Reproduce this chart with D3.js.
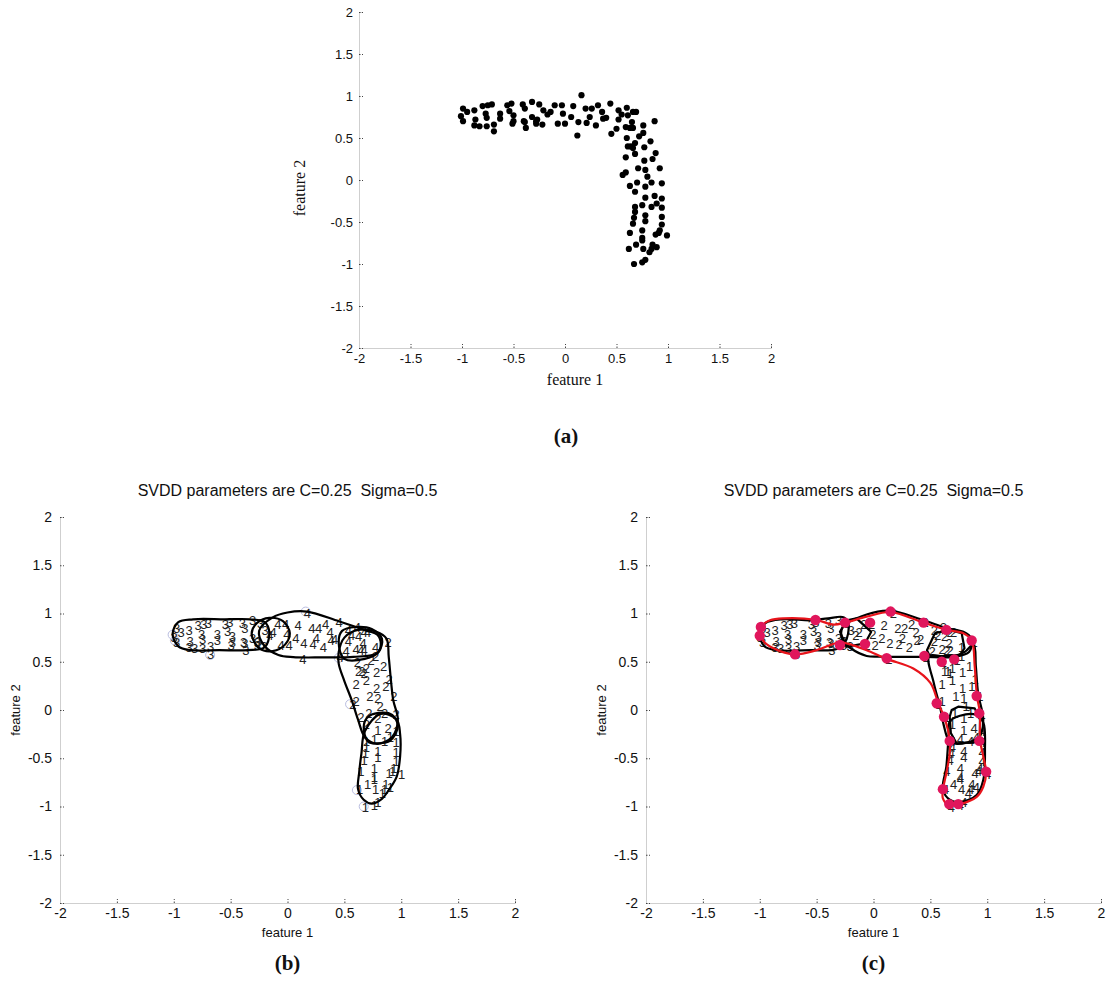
<!DOCTYPE html>
<html>
<head>
<meta charset="utf-8">
<script src="https://cdn.jsdelivr.net/npm/d3@7"></script>
<style>
  body { margin: 0; background: #fff; }
  svg { display: block; }
</style>
</head>
<body>
<script>
// raw data: feature1 / feature2 of every sample
const feature1 = [-1.01,-0.99,-0.99,-0.95,-0.88,-0.87,-0.88,-0.83,-0.80,-0.77,-0.76,-0.76,-0.75,-0.71,-0.69,-0.69,-0.63,-0.63,-0.56,-0.54,
  -0.52,-0.50,-0.50,-0.51,-0.41,-0.39,-0.40,-0.39,-0.38,-0.32,-0.32,-0.28,-0.27,-0.25,-0.28,-0.22,-0.21,-0.17,-0.14,-0.10,
  -0.07,-0.03,-0.02,0.00,0.06,0.08,0.12,0.13,0.16,0.20,0.21,0.24,0.26,0.30,0.32,0.36,0.37,0.40,0.44,0.45,
  0.50,0.52,0.52,0.55,0.60,0.61,0.59,0.63,0.65,0.66,0.69,0.66,0.60,0.61,0.64,0.66,0.68,0.72,0.76,0.76,
  0.77,0.83,0.87,0.88,0.85,0.77,0.68,0.59,0.71,0.78,0.92,0.59,0.56,0.80,0.63,0.70,0.84,0.78,0.94,0.68,
  0.78,0.87,0.89,0.94,0.84,0.75,0.68,0.94,0.68,0.67,0.78,0.78,0.94,0.66,0.94,0.63,0.75,0.75,0.75,0.92,
  0.88,0.91,0.99,0.69,0.62,0.76,0.85,0.89,0.82,0.84,0.78,0.75,0.67];
const feature2 = [0.76,0.85,0.70,0.81,0.83,0.72,0.65,0.64,0.88,0.79,0.74,0.64,0.89,0.90,0.66,0.58,0.79,0.73,0.89,0.82,
  0.91,0.77,0.70,0.67,0.90,0.85,0.70,0.69,0.62,0.93,0.75,0.70,0.72,0.90,0.67,0.66,0.83,0.78,0.81,0.89,
  0.67,0.89,0.79,0.67,0.75,0.88,0.53,0.69,1.01,0.85,0.68,0.75,0.85,0.65,0.89,0.81,0.73,0.74,0.91,0.55,
  0.61,0.72,0.83,0.78,0.86,0.77,0.63,0.62,0.69,0.81,0.81,0.62,0.50,0.40,0.40,0.38,0.44,0.52,0.65,0.56,
  0.39,0.46,0.70,0.32,0.25,0.23,0.31,0.27,0.14,0.12,0.14,0.09,0.06,0.04,-0.07,-0.03,-0.03,-0.08,-0.04,-0.14,
  -0.21,-0.19,-0.28,-0.22,-0.32,-0.30,-0.32,-0.33,-0.38,-0.45,-0.42,-0.49,-0.44,-0.52,-0.53,-0.63,-0.60,-0.69,-0.72,-0.60,
  -0.65,-0.63,-0.66,-0.77,-0.82,-0.82,-0.77,-0.80,-0.86,-0.82,-0.95,-0.98,-1.00];

// cluster labels printed at each sample in panels b and c
const labelsB = [3,3,3,3,3,3,3,3,3,3,3,3,3,3,3,3,3,3,3,3,
  3,3,3,3,3,3,3,3,3,3,3,3,3,3,3,3,3,4,4,4,
  4,4,4,4,4,4,4,4,4,4,4,4,4,4,4,4,4,4,4,4,
  4,4,4,4,4,4,4,4,4,4,4,4,2,2,2,2,2,2,4,2,
  2,2,2,2,2,2,2,2,2,2,2,2,2,2,2,2,2,2,2,2,
  1,2,1,1,1,1,1,1,1,1,1,1,1,1,1,1,1,1,1,1,
  1,1,1,1,1,1,1,1,1,1,1,1,1];
const labelsC = [3,3,3,3,3,3,3,3,3,3,3,3,3,3,3,3,3,3,3,3,
  3,3,3,3,3,3,3,3,3,3,3,3,3,3,3,3,3,2,2,2,
  2,2,2,2,2,2,2,2,2,2,2,2,2,2,2,2,2,2,2,2,
  2,2,2,2,2,2,2,2,2,2,2,2,1,1,1,1,1,1,1,1,
  1,1,1,1,1,1,1,1,1,1,1,1,1,1,1,1,1,1,1,1,
  1,4,4,4,4,4,4,4,4,4,4,4,4,4,4,4,4,4,4,4,
  4,4,4,4,4,4,4,4,4,4,4,4,4];

const ticks = [-2, -1.5, -1, -0.5, 0, 0.5, 1, 1.5, 2];
const panelTitle = "SVDD parameters are C=0.25  Sigma=0.5";

// cluster boundaries, panel b
const boundB3 = [[-1.01,0.79],[-0.96,0.91],[-0.83,0.94],[-0.55,0.94],[-0.33,0.94],[-0.2,0.91],[-0.16,0.8],[-0.2,0.65],[-0.35,0.62],[-0.6,0.62],[-0.85,0.62],[-0.96,0.66]];
const boundB34 = [[-0.315,0.79],[-0.27,0.9],[-0.16,0.955],[-0.04,0.92],[0.02,0.80],[-0.02,0.68],[-0.13,0.61],[-0.25,0.64]];
const boundB4 = [[-0.25,0.82],[-0.13,0.96],[0.0,1.01],[0.17,1.02],[0.45,0.92],[0.70,0.82],[0.79,0.78],[0.82,0.68],[0.79,0.59],[0.58,0.55],[0.30,0.545],[0.05,0.548],[-0.08,0.57],[-0.2,0.66]];
const boundB42 = [[0.45,0.70],[0.48,0.82],[0.60,0.86],[0.74,0.84],[0.83,0.74],[0.80,0.60],[0.68,0.53],[0.50,0.53]];
const boundB2 = [[0.45,0.60],[0.50,0.75],[0.62,0.83],[0.78,0.81],[0.87,0.74],[0.89,0.55],[0.91,0.30],[0.93,0.10],[0.97,-0.10],[0.92,-0.28],[0.78,-0.35],[0.68,-0.28],[0.62,-0.10],[0.565,0.10],[0.50,0.30],[0.45,0.48]];
const boundB21 = [[0.67,-0.18],[0.70,-0.08],[0.80,-0.03],[0.92,-0.05],[0.97,-0.17],[0.90,-0.32],[0.80,-0.345],[0.71,-0.33]];
const boundB1 = [[0.68,-0.22],[0.65,-0.45],[0.63,-0.65],[0.62,-0.82],[0.67,-0.93],[0.74,-0.97],[0.83,-0.92],[0.89,-0.83],[0.96,-0.69],[0.99,-0.48],[0.99,-0.25],[0.96,-0.10],[0.82,-0.04]];
const supportB = [[-1.01,0.78],[-0.99,0.72],[-0.68,0.57],[0.16,1.02],[0.55,0.06],[0.61,-0.83],[0.67,-1.0],[0.45,0.54]];

// cluster boundaries, panel c
const boundC3 = [[-1.0,0.79],[-0.95,0.90],[-0.80,0.94],[-0.55,0.93],[-0.40,0.95],[-0.26,0.96],[-0.22,0.88],[-0.25,0.70],[-0.33,0.63],[-0.55,0.62],[-0.85,0.62],[-0.96,0.66]];
const boundC32 = [[-0.295,0.81],[-0.235,0.93],[-0.15,0.95],[-0.02,0.81],[-0.075,0.69],[-0.235,0.655]];
const boundC2 = [[-0.27,0.86],[-0.06,0.99],[0.145,1.03],[0.44,0.93],[0.64,0.85],[0.79,0.81],[0.86,0.74],[0.84,0.60],[0.70,0.55],[0.44,0.55],[0.06,0.552],[-0.06,0.56],[-0.2,0.64],[-0.27,0.72]];
const boundC21 = [[0.47,0.62],[0.54,0.795],[0.67,0.83],[0.775,0.795],[0.80,0.64],[0.76,0.57],[0.497,0.552]];
const boundC1 = [[0.49,0.56],[0.53,0.28],[0.585,0.03],[0.62,-0.17],[0.66,-0.31],[0.72,-0.35],[0.93,-0.28],[0.965,-0.10],[0.92,0.17],[0.90,0.45],[0.88,0.68],[0.80,0.60],[0.65,0.55]];
const boundC14 = [[0.687,0.0],[0.745,0.034],[0.89,0.017],[0.936,-0.10],[0.936,-0.33],[0.73,-0.345],[0.68,-0.24],[0.67,-0.07]];
const boundC4 = [[0.66,-0.27],[0.64,-0.59],[0.61,-0.82],[0.67,-0.93],[0.76,-0.955],[0.907,-0.88],[0.965,-0.725],[0.98,-0.41],[0.965,-0.13],[0.90,-0.05],[0.76,-0.06],[0.67,-0.12]];
const boundRed = [[-0.99,0.80],[-0.983,0.87],[-0.91,0.93],[-0.79,0.95],[-0.51,0.935],[-0.35,0.885],[-0.25,0.905],[-0.06,0.967],[0.15,1.015],[0.44,0.905],[0.64,0.83],[0.79,0.795],[0.863,0.72],[0.89,0.45],[0.91,0.14],[0.936,-0.034],[0.936,-0.31],[0.965,-0.48],[0.99,-0.65],[0.965,-0.795],[0.907,-0.90],[0.76,-0.975],[0.66,-0.985],[0.61,-0.915],[0.61,-0.83],[0.64,-0.656],[0.67,-0.45],[0.67,-0.31],[0.63,-0.10],[0.57,0.07],[0.50,0.28],[0.35,0.43],[0.116,0.53],[-0.06,0.62],[-0.18,0.67],[-0.295,0.70],[-0.5,0.62],[-0.69,0.577],[-0.88,0.64],[-0.97,0.72]];
const supportC = [[-0.99,0.86],[-1.0,0.77],[-0.69,0.577],[-0.51,0.933],[-0.295,0.674],[-0.25,0.905],[-0.03,0.905],[-0.075,0.684],[0.15,1.02],[0.116,0.536],[0.44,0.905],[0.64,0.83],[0.863,0.72],[0.447,0.56],[0.60,0.50],[0.71,0.525],[0.907,0.145],[0.556,0.07],[0.62,-0.07],[0.93,-0.035],[0.67,-0.32],[0.93,-0.32],[0.99,-0.64],[0.61,-0.82],[0.666,-0.975],[0.745,-0.975]];

const samples = feature1.map((x, i) => ({x: x, y: feature2[i], b: labelsB[i], c: labelsC[i]}));

const svg = d3.select("body").append("svg")
    .attr("width", 1109)
    .attr("height", 989);

// axes in the matlab style: only left and bottom, light grey, ticks inside
function drawAxes(g, x, y, opt) {
  let xa = g.append("g")
      .attr("transform", `translate(0,${y.range()[0]})`)
      .call(d3.axisBottom(x).tickValues(ticks).tickSize(-4).tickPadding(opt.padX).tickFormat(d => String(d)));
  let ya = g.append("g")
      .attr("transform", `translate(${x.range()[0]},0)`)
      .call(d3.axisLeft(y).tickValues(ticks).tickSize(-4).tickPadding(opt.padY).tickFormat(d => String(d)));
  [xa, ya].forEach(a => {
    a.select(".domain").attr("stroke", "#cfcfcf");
    a.selectAll(".tick line").attr("stroke", "#444").attr("stroke-dasharray", "1.5,1.5");
    a.selectAll(".tick text")
        .attr("fill", "#111")
        .style("font-family", "Arial, 'Liberation Sans', sans-serif")
        .style("font-size", opt.tickSize + "px");
  });
}

function label(g, text, x, y, font, size, rotate, weight) {
  g.append("text")
      .attr("transform", `translate(${x},${y})` + (rotate ? " rotate(-90)" : ""))
      .attr("text-anchor", "middle")
      .attr("dominant-baseline", "middle")
      .style("font-family", font)
      .style("font-size", size + "px")
      .style("font-weight", weight || "normal")
      .style("white-space", "pre")
      .attr("fill", "#111")
      .text(text);
}

const serif = "'Liberation Serif', 'Times New Roman', serif";
const sans = "Arial, 'Liberation Sans', sans-serif";

// ---- panel (a)
{
  let x = d3.scaleLinear().domain([-2, 2]).range([359, 771]);
  let y = d3.scaleLinear().domain([-2, 2]).range([348, 12]);
  let g = svg.append("g");
  drawAxes(g, x, y, {padX: 6, padY: 6, tickSize: 13});
  g.selectAll("circle.pt")
      .data(samples)
      .enter()
      .append("circle")
      .attr("class", "pt")
      .attr("r", 3.1)
      .attr("cx", d => x(d.x))
      .attr("cy", d => y(d.y))
      .attr("fill", "#000");
  label(g, "feature 1", 575, 381, serif, 16);
  label(g, "feature 2", 301, 188, serif, 16, true);
  label(g, "(a)", 566, 438, serif, 21, false, "bold");
}

// ---- panels (b) and (c)
function drawCluster(left, right, key, bounds, linearBounds, red, support, supportStyle, name) {
  let x = d3.scaleLinear().domain([-2, 2]).range([left, right]);
  let y = d3.scaleLinear().domain([-2, 2]).range([903, 517]);
  let g = svg.append("g");
  drawAxes(g, x, y, {padX: 5, padY: 8, tickSize: 14});
  let smooth = d3.line().x(d => x(d[0])).y(d => y(d[1])).curve(d3.curveCatmullRomClosed.alpha(0.5));
  let sharp = d3.line().x(d => x(d[0])).y(d => y(d[1])).curve(d3.curveLinearClosed);

  if (supportStyle === "ring") {
    g.selectAll("circle.sv")
        .data(support)
        .enter()
        .append("circle")
        .attr("class", "sv")
        .attr("r", 4.5)
        .attr("cx", d => x(d[0]))
        .attr("cy", d => y(d[1]))
        .attr("fill", "none")
        .attr("stroke", "#b9bde0")
        .attr("stroke-width", 1);
  }

  g.selectAll("text.lab")
      .data(samples)
      .enter()
      .append("text")
      .attr("class", "lab")
      .attr("x", d => x(d.x) - 2)
      .attr("y", d => y(d.y) + 5)
      .style("font-family", sans)
      .style("font-size", "13px")
      .attr("fill", "#222")
      .text(d => d[key]);

  bounds.forEach(b => {
    g.append("path").attr("d", smooth(b))
        .attr("fill", "none").attr("stroke", "#000").attr("stroke-width", 2.2);
  });
  linearBounds.forEach(b => {
    g.append("path").attr("d", sharp(b))
        .attr("fill", "none").attr("stroke", "#000").attr("stroke-width", 2.2)
        .attr("stroke-linejoin", "round");
  });

  if (red) {
    g.append("path").attr("d", smooth(red))
        .attr("fill", "none").attr("stroke", "#e8141b").attr("stroke-width", 2.2);
  }
  if (supportStyle === "dot") {
    g.selectAll("circle.sv")
        .data(support)
        .enter()
        .append("circle")
        .attr("class", "sv")
        .attr("r", 5.2)
        .attr("cx", d => x(d[0]))
        .attr("cy", d => y(d[1]))
        .attr("fill", "#e0165c");
  }

  let mid = (left + right) / 2;
  label(g, panelTitle, mid, 492, sans, 16);
  label(g, "feature 1", mid, 934, sans, 13);
  label(g, "feature 2", left - 43, 710, sans, 13, true);
  label(g, name, mid, 965, serif, 21, false, "bold");
}

drawCluster(60, 515, "b", [boundB3, boundB34, boundB4, boundB42, boundB2, boundB21, boundB1], [], null, supportB, "ring", "(b)");
drawCluster(646, 1101, "c", [boundC3, boundC2, boundC1, boundC4], [boundC32, boundC21, boundC14], boundRed, supportC, "dot", "(c)");
</script>
</body>
</html>
